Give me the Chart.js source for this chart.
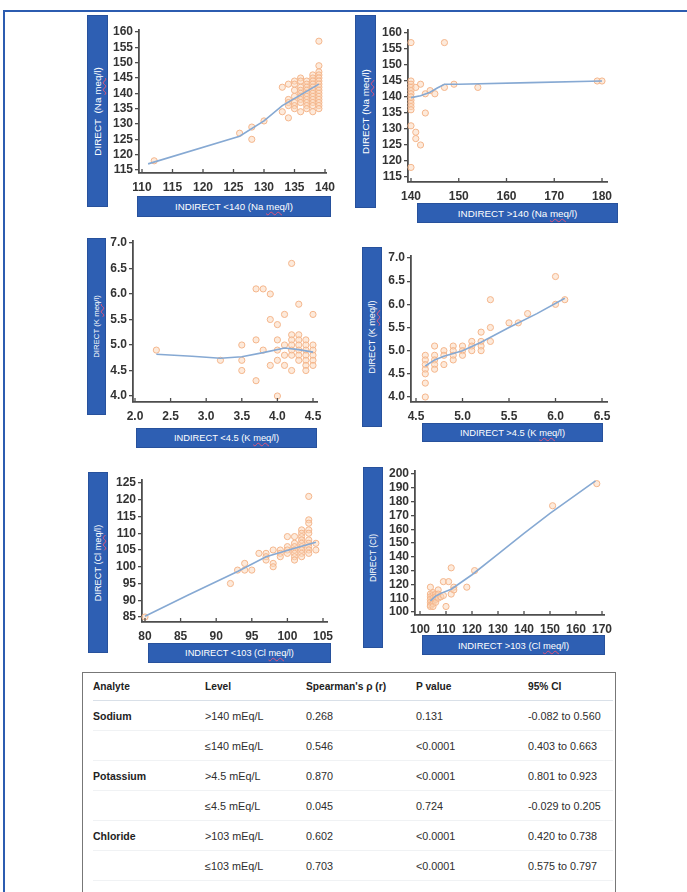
<!DOCTYPE html>
<html><head><meta charset="utf-8">
<script src="https://cdn.jsdelivr.net/npm/chart.js@4.4.0/dist/chart.umd.min.js"></script>
<style>
html,body{margin:0;padding:0;background:#fff;}
body{width:687px;height:892px;position:relative;overflow:hidden;font-family:"Liberation Sans",Arial,sans-serif;}
.frameTop{position:absolute;left:3px;top:10px;width:684px;height:2px;background:#2c5cb0;}
.frameLeft{position:absolute;left:3px;top:10px;width:1.5px;height:882px;background:#2c5cb0;}
.box{position:absolute;background:#2e5fb3;color:#fff;display:flex;align-items:center;justify-content:center;white-space:nowrap;box-sizing:border-box;border:1px solid #27519c;}
.box span{display:block;}
.vbox span{transform:rotate(-90deg);}
.sq{text-decoration:underline wavy #e2557a;text-decoration-thickness:1px;text-underline-offset:1px;}
canvas{position:absolute;}
.tbl{position:absolute;left:82px;top:672px;width:534px;height:240px;border:1.5px solid #777;box-sizing:border-box;}
.tbl table{position:absolute;left:10px;top:0;border-collapse:collapse;table-layout:fixed;width:520px;font-size:10.8px;color:#2e2e2e;}
.tbl td{padding:0;height:29px;vertical-align:middle;border-bottom:1px solid #f0f2f4;white-space:nowrap;}
.tbl tr.hd td{height:27px;font-size:10.2px;font-weight:bold;color:#222;border-bottom:1px solid #d9e0e8;}
.tbl td.an{font-weight:bold;font-size:10.5px;color:#222;}
</style></head>
<body>
<div class="frameTop"></div><div class="frameLeft"></div>

<div class="box vbox" style="left:87px;top:15px;width:21px;height:192px;font-size:9.9px"><span>DIRECT&nbsp; (Na <span class="sq" style="display:inline">meq</span>/l)</span></div>
<div class="box" style="left:137px;top:196px;width:194px;height:21px;font-size:9.7px"><span>INDIRECT &lt;140 (Na <span class="sq" style="display:inline">meq</span>/l)</span></div>

<div class="box vbox" style="left:355px;top:15px;width:21px;height:193px;font-size:9.8px"><span>DIRECT (Na <span class="sq" style="display:inline">meq</span>/l)</span></div>
<div class="box" style="left:417px;top:203px;width:201px;height:20px;font-size:9.8px"><span>INDIRECT &gt;140 (Na <span class="sq" style="display:inline">meq</span>/l)</span></div>

<div class="box vbox" style="left:87px;top:238px;width:19px;height:177px;font-size:7.8px"><span>DIRECT (K <span class="sq" style="display:inline">meq</span>/l)</span></div>
<div class="box" style="left:136px;top:428px;width:181px;height:20px;font-size:9.3px"><span>INDIRECT &lt;4.5 (K <span class="sq" style="display:inline">meq</span>/l)</span></div>

<div class="box vbox" style="left:362px;top:247px;width:20px;height:180px;font-size:9.1px"><span>DIRECT (K <span class="sq" style="display:inline">meq</span>/l)</span></div>
<div class="box" style="left:422px;top:423px;width:181px;height:19px;font-size:9.3px"><span>INDIRECT &gt;4.5 (K <span class="sq" style="display:inline">meq</span>/l)</span></div>

<div class="box vbox" style="left:88px;top:472px;width:20px;height:181px;font-size:9.2px"><span>DIRECT (Cl <span class="sq" style="display:inline">meq</span>/l)</span></div>
<div class="box" style="left:148px;top:643px;width:183px;height:20px;font-size:9.2px"><span>INDIRECT &lt;103 (Cl <span class="sq" style="display:inline">meq</span>/l)</span></div>

<div class="box vbox" style="left:363px;top:467px;width:20px;height:181px;font-size:8.6px"><span>DIRECT (Cl)</span></div>
<div class="box" style="left:422px;top:635px;width:183px;height:20px;font-size:9.4px"><span>INDIRECT &gt;103 (Cl <span class="sq" style="display:inline">meq</span>/l)</span></div>

<div class="tbl"><table>
<colgroup><col style="width:112px"><col style="width:101px"><col style="width:110px"><col style="width:112px"><col style="width:85px"></colgroup>
<tbody id="tb"></tbody></table></div>

<script>
// ---------- DATA ----------
const naLowPoints = [[112,118],[126,127],[128,129],[128,125],[130,131],
 [133,142],[133,134],
 [134,143],[134,138],[134,137],[134,136],[134,132],
 [135,144],[135,143],[135,141],[135,139],[135,137],[135,136],[135,135],
 [136,145],[136,144],[136,142],[136,141],[136,140],[136,139],[136,138],[136,137],[136,134],
 [137,144],[137,143],[137,142],[137,141],[137,140],[137,139],[137,138],[137,137],[137,136],[137,135],
 [138,146],[138,145],[138,144],[138,143],[138,142],[138,141],[138,140],[138,139],[138,138],[138,137],[138,136],[138,134],
 [139,157],[139,149],[139,147],[139,146],[139,145],[139,144],[139,143],[139,142],[139,141],[139,140],[139,139],[139,138],[139,137],[139,136],[139,135]];
const naLowFit = [[111,117],[126,126],[130,131],[133,136],[136,139.5],[139,143]];

const naHighPoints = [[140,157],[140,145],[140,144],[140,143],[140,142],[140,141],[140,140],[140,139],[140,138],[140,137],[140,136],[140,131],[140,118],
 [141,143],[141,129],[141,127],[142,144],[142,125],[143,141],[143,135],[144,142],[145,141],
 [147,157],[147,143],[149,144],[154,143],[179,145],[180,145]];
const naHighFit = [[140,139.8],[142,140.4],[144,141.5],[145.5,142.8],[147,144],[150,144],[165,144.5],[180,145]];

const kLowPoints = [[2.3,4.9],[3.2,4.7],
 [3.5,5.0],[3.5,4.7],[3.5,4.5],[3.7,6.1],[3.7,5.1],[3.7,4.3],[3.8,6.1],[3.8,4.9],
 [3.9,6.0],[3.9,5.5],[3.9,4.6],[4.0,5.4],[4.0,5.1],[4.0,4.9],[4.0,4.7],[4.0,4.0],
 [4.1,5.6],[4.1,5.0],[4.1,4.8],[4.1,4.6],
 [4.2,6.6],[4.2,5.2],[4.2,5.1],[4.2,5.0],[4.2,4.9],[4.2,4.8],[4.2,4.5],
 [4.3,5.8],[4.3,5.2],[4.3,5.1],[4.3,5.0],[4.3,4.9],[4.3,4.8],[4.3,4.7],
 [4.4,5.1],[4.4,5.0],[4.4,4.9],[4.4,4.8],[4.4,4.7],[4.4,4.6],[4.4,4.5],
 [4.5,5.6],[4.5,5.0],[4.5,4.9],[4.5,4.8],[4.5,4.7],[4.5,4.6]];
const kLowFit = [[2.3,4.82],[2.8,4.78],[3.2,4.74],[3.5,4.77],[3.8,4.85],[4.1,4.94],[4.3,4.91],[4.5,4.86]];

const kHighPoints = [[4.6,4.9],[4.6,4.8],[4.6,4.7],[4.6,4.6],[4.6,4.5],[4.6,4.3],[4.6,4.0],
 [4.7,5.1],[4.7,4.9],[4.7,4.8],[4.7,4.7],[4.7,4.6],[4.8,5.0],[4.8,4.9],[4.8,4.7],
 [4.9,5.1],[4.9,5.0],[4.9,4.9],[4.9,4.8],[5.0,5.1],[5.0,5.0],[5.0,4.9],
 [5.1,5.2],[5.1,5.1],[5.1,5.0],[5.2,5.4],[5.2,5.2],[5.2,5.1],[5.2,5.0],
 [5.3,6.1],[5.3,5.5],[5.3,5.2],[5.5,5.6],[5.6,5.6],[5.7,5.8],[6.0,6.6],[6.0,6.0],[6.1,6.1]];
const kHighFit = [[4.6,4.67],[4.7,4.8],[4.8,4.88],[5.0,5.0],[5.2,5.18],[5.5,5.5],[5.8,5.8],[6.1,6.13]];

const clLowPoints = [[80,85],[92,95],[93,99],[94,101],[94,99],[95,99],[96,104],
 [97,104],[97,103],[97,102],[98,105],[98,101],[98,100],[99,105],[99,104],[99,103],
 [100,109],[100,106],[100,105],[100,104],
 [101,109],[101,107],[101,106],[101,105],[101,104],[101,103],[101,102],
 [102,111],[102,110],[102,109],[102,108],[102,107],[102,106],[102,105],[102,104],[102,103],
 [103,121],[103,114],[103,113],[103,111],[103,110],[103,108],[103,107],[103,106],[103,105],[103,104],
 [104,107],[104,105]];
const clLowFit = [[80,85.2],[86,91.5],[93,98.6],[97,103],[101,105.5],[104,107.3]];

const clHighPoints = [[104,118],[104,113],[104,111],[104,109],[104,107],[104,105],[104,104],
 [105,114],[105,112],[105,110],[105,108],[105,106],[105,104],
 [106,113],[106,111],[106,109],[106,107],[107,116],[107,113],[107,110],
 [108,111],[109,122],[109,112],[110,104],[111,122],[112,132],[112,113],[113,118],[113,116],
 [118,118],[121,130],[151,177],[168,193]];
const clHighFit = [[104,108],[106,111.5],[108,113.5],[112,116.5],[120,127],[130,142],[140,157],[150,171.5],[167.5,195]];

// tick labels
const naLowXTicks = [110,115,120,125,130,135,140];
const naYTicks = [115,120,125,130,135,140,145,150,155,160];
const naHighXTicks = [140,150,160,170,180];
const kLowXTicks = [2.0,2.5,3.0,3.5,4.0,4.5];
const kHighXTicks = [4.5,5.0,5.5,6.0,6.5];
const kYTicks = [4.0,4.5,5.0,5.5,6.0,6.5,7.0];
const clLowXTicks = [80,85,90,95,100,105];
const clLowYTicks = [85,90,95,100,105,110,115,120,125];
const clHighXTicks = [100,110,120,130,140,150,160,170];
const clHighYTicks = [100,110,120,130,140,150,160,170,180,190,200];

// table
const tableHeader = ["Analyte","Level","Spearman's \u03c1 (r)","P value","95% CI"];
const tableAnalyte = ["Sodium","","Potassium","","Chloride",""];
const tableLevel = [">140 mEq/L","\u2264140 mEq/L",">4.5 mEq/L","\u22644.5 mEq/L",">103 mEq/L","\u2264103 mEq/L"];
const tableRho = ["0.268","0.546","0.870","0.045","0.602","0.703"];
const tableP = ["0.131","<0.0001","<0.0001","0.724","<0.0001","<0.0001"];
const tableCI = ["-0.082 to 0.560","0.403 to 0.663","0.801 to 0.923","-0.029 to 0.205","0.420 to 0.738","0.575 to 0.797"];

// ---------- TABLE ----------
(function(){
  const tb = document.getElementById('tb');
  let h = '<tr class="hd">' + tableHeader.map(t=>'<td>'+t.replace(/</g,'&lt;')+'</td>').join('') + '</tr>';
  for (let i=0;i<tableLevel.length;i++){
    h += '<tr><td class="an">'+tableAnalyte[i]+'</td><td>'+tableLevel[i].replace(/</g,'&lt;')+'</td><td>'+tableRho[i]+'</td><td>'+tableP[i].replace(/</g,'&lt;')+'</td><td>'+tableCI[i]+'</td></tr>';
  }
  tb.innerHTML = h;
})();

// ---------- CHARTS ----------
const AX = '#4d4d4d';
const TICKFONT = {family:'"Liberation Sans", Arial, sans-serif', size:12, weight:'bold'};
const upTicks = {
  id:'upTicks',
  afterDraw(chart){
    const s = chart.scales.x, ctx = chart.ctx, b = chart.chartArea.bottom;
    ctx.save(); ctx.strokeStyle = AX; ctx.lineWidth = 1.3;
    s.ticks.forEach(t=>{
      const px = s.getPixelForValue(t.value);
      ctx.beginPath(); ctx.moveTo(px, b); ctx.lineTo(px, b-4); ctx.stroke();
    });
    ctx.restore();
  }
};

function rangeFromCal(cal, lo, hi){
  const k = (cal[2]-cal[0])/(cal[3]-cal[1]);
  return [cal[0] + (lo-cal[1])*k, cal[0] + (hi-cal[1])*k];
}

function makeChart(area, xcal, ycal, xticks, yticks, dec, points, fit){
  const PADL = 46, PADT = 12, PADR = 20, PADB = 30;
  const w = area.r - area.l + PADL + PADR, h = area.b - area.t + PADT + PADB;
  const c = document.createElement('canvas');
  c.width = w; c.height = h;
  c.style.left = (area.l - PADL) + 'px'; c.style.top = (area.t - PADT) + 'px';
  c.style.width = w + 'px'; c.style.height = h + 'px';
  document.body.appendChild(c);
  const xr = rangeFromCal(xcal, area.l, area.r);
  const yr = rangeFromCal(ycal, area.b, area.t);
  new Chart(c, {
    type:'scatter',
    data:{datasets:[
      {type:'line', data:fit.map(p=>({x:p[0],y:p[1]})), borderColor:'#86a9d3', borderWidth:1.6,
       pointRadius:0, fill:false, tension:0, clip:false, order:0},
      {data:points.map(p=>({x:p[0],y:p[1]})), pointRadius:3.1, pointBorderWidth:1,
       backgroundColor:'rgba(251,214,184,0.5)', borderColor:'#f4b68c', clip:false, order:1}
    ]},
    options:{
      responsive:false, animation:false, devicePixelRatio:1,
      layout:{padding:{left:0, top:PADT, right:PADR, bottom:0}},
      plugins:{legend:{display:false}, tooltip:{enabled:false}},
      events:[],
      scales:{
        x:{type:'linear', min:xr[0], max:xr[1],
           afterBuildTicks:s=>{s.ticks = xticks.map(v=>({value:v}));},
           afterFit:s=>{s.height = PADB;},
           grid:{display:false},
           border:{display:true, color:AX, width:1.8},
           ticks:{padding:-1, color:'#333', font:TICKFONT, maxRotation:0, autoSkip:false,
                  callback:v=>Number(v).toFixed(dec[0])}},
        y:{type:'linear', min:yr[0], max:yr[1],
           afterBuildTicks:s=>{s.ticks = yticks.map(v=>({value:v}));},
           afterFit:s=>{s.width = PADL;},
           grid:{display:true, drawOnChartArea:false, drawTicks:true, tickLength:4, color:AX, lineWidth:1.3},
           border:{display:true, color:AX, width:1.8},
           ticks:{padding:2, color:'#333', font:TICKFONT, autoSkip:false,
                  callback:v=>Number(v).toFixed(dec[1])}}
      }
    },
    plugins:[upTicks]
  });
}

makeChart({l:139,r:326,t:30,b:173},[110,142,140,325],[160,32,115,170],naLowXTicks,naYTicks,[0,0],naLowPoints,naLowFit);
makeChart({l:408,r:607,t:30,b:182},[140,411,180,602],[160,33,115,177],naHighXTicks,naYTicks,[0,0],naHighPoints,naHighFit);
makeChart({l:133,r:317,t:241,b:402},[2,135,4.5,313],[7,243,4,396],kLowXTicks,kYTicks,[1,1],kLowPoints,kLowFit);
makeChart({l:411,r:607,t:256,b:402},[4.5,416,6.5,602],[7,258,4,397],kHighXTicks,kYTicks,[1,1],kHighPoints,kHighFit);
makeChart({l:142,r:327,t:480,b:622},[80,145,105,323],[125,483,85,617],clLowXTicks,clLowYTicks,[0,0],clLowPoints,clLowFit);
makeChart({l:415,r:604,t:471,b:615},[100,420,170,602],[200,474,100,612],clHighXTicks,clHighYTicks,[0,0],clHighPoints,clHighFit);
</script>
</body></html>
